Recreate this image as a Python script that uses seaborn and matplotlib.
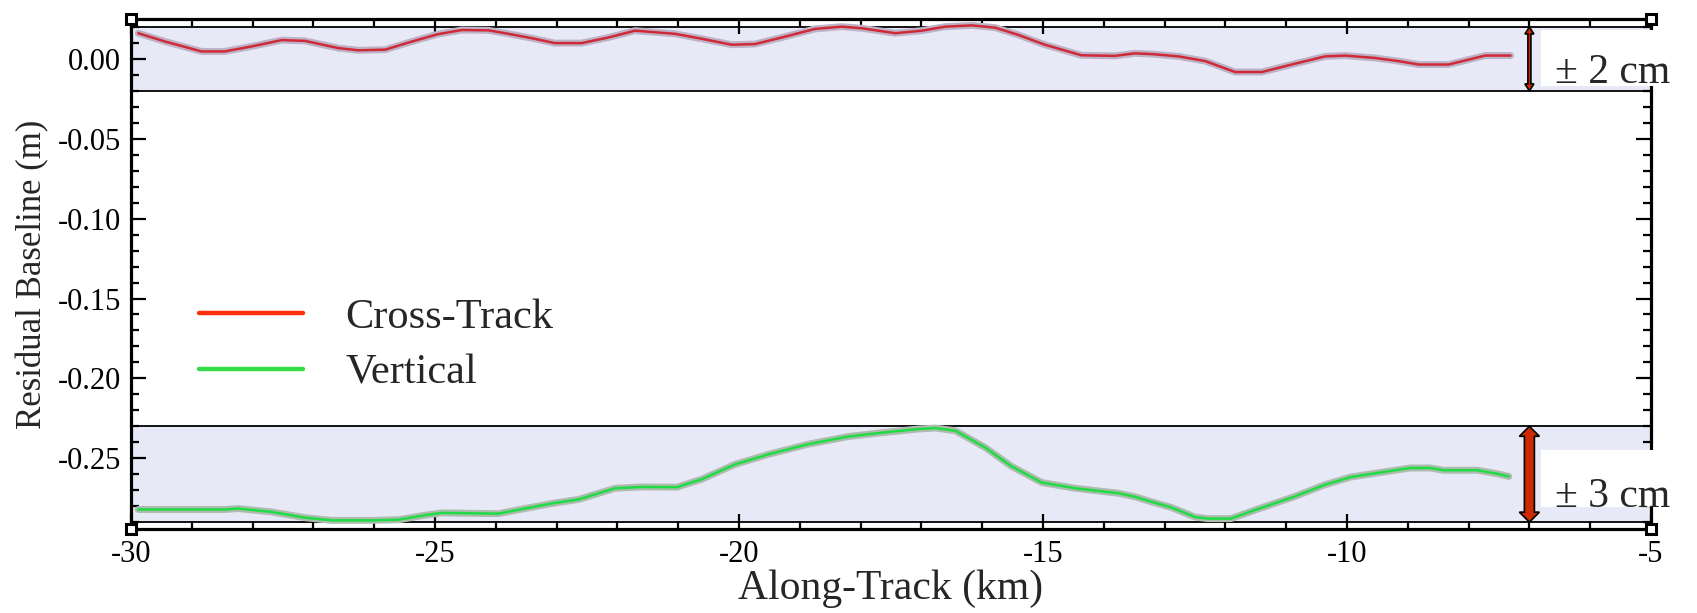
import numpy as np
import pandas as pd
import matplotlib
matplotlib.use("Agg")
import matplotlib.pyplot as plt
import matplotlib.patheffects as pe
from matplotlib.lines import Line2D
from matplotlib.patches import Polygon, Rectangle
from matplotlib.transforms import IdentityTransform
import seaborn as sns

# ---------------- data ----------------
cross_km = [-29.88, -29.44, -28.84, -28.46, -28.02, -27.52, -27.14, -26.59, -26.26, -25.82,
            -25.38, -24.95, -24.56, -24.12, -23.79, -23.41, -23.03, -22.59, -22.15, -21.71,
            -21.05, -20.61, -20.12, -19.74, -19.30, -18.75, -18.31, -17.98, -17.43, -16.99,
            -16.61, -16.17, -15.79, -15.41, -14.97, -14.37, -13.82, -13.49, -13.20, -12.77,
            -12.33, -11.84, -11.40, -10.91, -10.36, -10.03, -9.54, -9.15, -8.82, -8.33,
            -8.06, -7.73, -7.31]
cross_res = [0.0161, 0.0109, 0.0047, 0.0047, 0.0078, 0.0118, 0.0113, 0.0068, 0.0054, 0.0058,
             0.0109, 0.0155, 0.0181, 0.0179, 0.0157, 0.0130, 0.0099, 0.0099, 0.0134, 0.0177,
             0.0157, 0.0126, 0.0089, 0.0093, 0.0134, 0.0188, 0.0202, 0.0192, 0.0161, 0.0177,
             0.0202, 0.0210, 0.0196, 0.0151, 0.0089, 0.0023, 0.0019, 0.0035, 0.0030, 0.0016,
             -0.0014, -0.0082, -0.0082, -0.0035, 0.0016, 0.0021, 0.0006, -0.0014, -0.0035, -0.0035,
             -0.0010, 0.0021, 0.0021]

vert_km = [-29.88, -29.28, -28.46, -28.24, -27.69, -27.14, -26.70, -26.04, -25.60, -25.17,
           -24.89, -23.96, -23.52, -23.08, -22.64, -22.04, -21.62, -21.02, -20.61, -20.07,
           -19.52, -18.86, -18.20, -17.60, -17.05, -16.77, -16.44, -15.95, -15.52, -15.02,
           -14.47, -13.76, -13.49, -13.24, -12.89, -12.50, -12.29, -11.91, -11.52, -10.87,
           -10.37, -9.94, -9.50, -8.96, -8.63, -8.41, -7.86, -7.53, -7.34]
vert_res = [-0.2821, -0.2821, -0.2821, -0.2815, -0.2836, -0.2872, -0.2889, -0.2889, -0.2885, -0.2857,
            -0.2842, -0.2847, -0.2815, -0.2783, -0.2758, -0.2688, -0.2680, -0.2681, -0.2631, -0.2539,
            -0.2476, -0.2412, -0.2364, -0.2338, -0.2317, -0.2311, -0.2328, -0.2433, -0.2550, -0.2652,
            -0.2688, -0.2719, -0.2741, -0.2770, -0.2808, -0.2868, -0.2878, -0.2878, -0.2825, -0.2741,
            -0.2667, -0.2618, -0.2592, -0.2561, -0.2561, -0.2575, -0.2575, -0.2597, -0.2614]

bands = [(-0.02, 0.02), (-0.29, -0.23)]
band_labels = ["\u00b1 2 cm", "\u00b1 3 cm"]
series_names = ["Cross-Track", "Vertical"]
x_ticks = [-30, -25, -20, -15, -10, -5]
y_ticks = [0.00, -0.05, -0.10, -0.15, -0.20, -0.25]
y_tick_labels = ["0.00", "-0.05", "-0.10", "-0.15", "-0.20", "-0.25"]

# ---------------- style ----------------
sns.set_style("ticks")
plt.rcParams['font.family'] = ['Liberation Serif', 'DejaVu Serif']
plt.rcParams['axes.unicode_minus'] = False

fig = plt.figure(figsize=(16.97, 6.13), dpi=100)
ax = fig.add_axes([131 / 1697, 1 - 529 / 613, 1520 / 1697, 510 / 613])

band_color = "#e8e9f7"
for lo, hi in bands:
    ax.axhspan(lo, hi, facecolor=band_color, edgecolor="none", zorder=0)
    ax.axhline(lo, color="black", lw=1.3, zorder=1)
    ax.axhline(hi, color="black", lw=1.3, zorder=1)

df_c = pd.DataFrame({"km": cross_km, "res": cross_res})
df_v = pd.DataFrame({"km": vert_km, "res": vert_res})

red_line = "#d02a38"
green_line = "#1fdc45"
sns.lineplot(data=df_c, x="km", y="res", ax=ax, color=red_line, lw=1.8, zorder=3,
             path_effects=[pe.Stroke(linewidth=5, foreground="#bdb2c6"), pe.Normal()])
sns.lineplot(data=df_v, x="km", y="res", ax=ax, color=green_line, lw=1.8, zorder=3,
             path_effects=[pe.Stroke(linewidth=5, foreground="#adbcae"), pe.Normal()])

ax.set_xlim(-30, -5)
ax.set_ylim(-0.2943, 0.0250)
ax.set_xticks(x_ticks)
ax.set_xticklabels([str(t) for t in x_ticks])
ax.set_xticks(np.arange(-30, -4, 1), minor=True)
ax.set_yticks(y_ticks)
ax.set_yticklabels(y_tick_labels)
ax.set_yticks(np.arange(-0.29, 0.021, 0.01), minor=True)
ax.tick_params(which="both", direction="in", top=True, right=True, width=1.6, colors="black")
ax.tick_params(which="major", length=11, labelsize=22)
ax.tick_params(axis="x", which="major", pad=8)
ax.tick_params(axis="y", which="major", pad=7)
ax.tick_params(which="minor", length=5.5)
for s in ax.spines.values():
    s.set_linewidth(2.3)
    s.set_color("black")
    s.set_visible(True)

ax.set_xlabel("Along-Track (km)", fontsize=30, labelpad=0)
ax.set_ylabel("Residual Baseline (m)", fontsize=25, labelpad=6)

# corner squares
for cx, cy in [(0, 0), (0, 1), (1, 0), (1, 1)]:
    ax.plot([cx], [cy], marker="s", ms=7, mfc="white", mec="black", mew=2.2,
            transform=ax.transAxes, clip_on=False, zorder=6)

# legend
handles = [Line2D([0], [0], color="#ff3010", lw=3.2),
           Line2D([0], [0], color="#35dd45", lw=3.2)]
ax.legend(handles, series_names, loc="center left", bbox_to_anchor=(0.045, 0.36),
          frameon=False, fontsize=30.5, handlelength=2.45, handletextpad=1.0,
          labelspacing=0.42, borderpad=0, borderaxespad=0)

# white label boxes and labels
box_specs = [(-0.0172, 0.0182, -0.0150), (-0.2806, -0.2446, -0.2805)]
for (ylo, yhi, ybase), lab in zip(box_specs, band_labels):
    ax.add_patch(Rectangle((-6.81, ylo), 1.9, yhi - ylo, facecolor="white", edgecolor="none",
                           clip_on=False, zorder=4))
    ax.text(-6.58, ybase, lab, fontsize=30, ha="left", va="baseline", zorder=5, clip_on=False)

# double arrows
fig.canvas.draw()
arrow_specs = [(bands[0], 1.5, 4.5, 7), (bands[1], 5, 10, 10)]
for (lo, hi), hw, hhw, hl in arrow_specs:
    (x0, y0), (x1, y1) = ax.transData.transform([(-7, lo), (-7, hi)])
    verts = [(x0, y0), (x0 + hhw, y0 + hl), (x0 + hw, y0 + hl), (x0 + hw, y1 - hl),
             (x0 + hhw, y1 - hl), (x0, y1), (x0 - hhw, y1 - hl), (x0 - hw, y1 - hl),
             (x0 - hw, y0 + hl), (x0 - hhw, y0 + hl)]
    fig.patches.append(Polygon(verts, closed=True, facecolor="#cc2a00", edgecolor="black",
                               lw=1.2, transform=IdentityTransform(), figure=fig, zorder=7))

fig.savefig("out.png", dpi=100)
